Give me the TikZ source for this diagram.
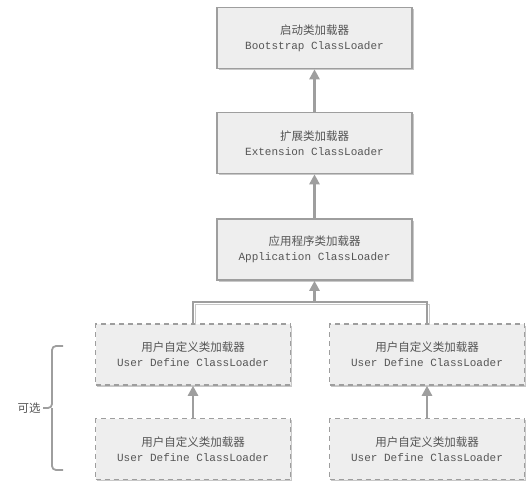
\documentclass[tikz,border=0pt]{standalone}
\usepackage{fontspec}
\setmonofont{Liberation Mono}
\newfontfamily\cjk{Noto Sans CJK SC}
\usetikzlibrary{arrows.meta,shadows}
\definecolor{boxfill}{HTML}{EEEEEE}
\definecolor{boxline}{HTML}{9E9E9E}
\definecolor{txt}{HTML}{555555}
\definecolor{shadowgray}{HTML}{C8C8C8}
\begin{document}
\begin{tikzpicture}[x=1pt,y=-1pt,
  loader/.style={draw=boxline, line width=1.6pt, fill=boxfill,
    minimum width=195pt, minimum height=61pt, align=center, text=txt,
    inner sep=0pt, font=\fontsize{11}{16}\selectfont,
    drop shadow={shadow xshift=1.5pt, shadow yshift=-1.8pt, fill=shadowgray, opacity=1}},
  userbox/.style={loader, dashed, dash pattern=on 5pt off 4pt},
  link/.style={draw=boxline, line width=2.6pt},
  up/.style={link, -{Triangle[length=10pt,width=10pt]}}]
\useasboundingbox (0,0) rectangle (529,487);
\newcommand{\twoline}[2]{{\cjk\fontsize{11.5}{16}\selectfont #1}\\[-1pt]{\ttfamily #2}}
\node[loader] (boot) at (314.5,38) {\twoline{启动类加载器}{Bootstrap ClassLoader}};
\node[loader] (ext) at (314.5,143) {\twoline{扩展类加载器}{Extension ClassLoader}};
\node[loader] (app) at (314.5,249.5) {\twoline{应用程序类加载器}{Application ClassLoader}};
\node[userbox] (u1) at (193,354.5) {\twoline{用户自定义类加载器}{User Define ClassLoader}};
\node[userbox] (u2) at (427,354.5) {\twoline{用户自定义类加载器}{User Define ClassLoader}};
\node[userbox] (u3) at (193,449) {\twoline{用户自定义类加载器}{User Define ClassLoader}};
\node[userbox] (u4) at (427,449) {\twoline{用户自定义类加载器}{User Define ClassLoader}};
\coordinate (j) at (314.5,302);
\draw[up] (ext.north) -- (boot.south);
\draw[up] (app.north) -- (ext.south);
\draw[draw=shadowgray, line width=1.6pt] ([xshift=2.5pt,yshift=-2pt]u1.north) |- ([yshift=-2.5pt]j) -| ([xshift=2.5pt,yshift=-2pt]u2.north);
\draw[link] (u1.north) |- (j) -| (u2.north);
\draw[up] (j) -- (app.south);
\draw[up] (u3.north) -- (u1.south);
\draw[up] (u4.north) -- (u2.south);
\draw[draw=boxline, line width=1.8pt, rounded corners=4pt]
  (63,346) -- (52,346) -- (52,408) -- (43,408);
\draw[draw=boxline, line width=1.8pt, rounded corners=4pt]
  (63,470) -- (52,470) -- (52,408);
\node[text=txt, font=\cjk\fontsize{11.5}{13}\selectfont] (opt) at (29,408) {可选};
\end{tikzpicture}
\end{document}
